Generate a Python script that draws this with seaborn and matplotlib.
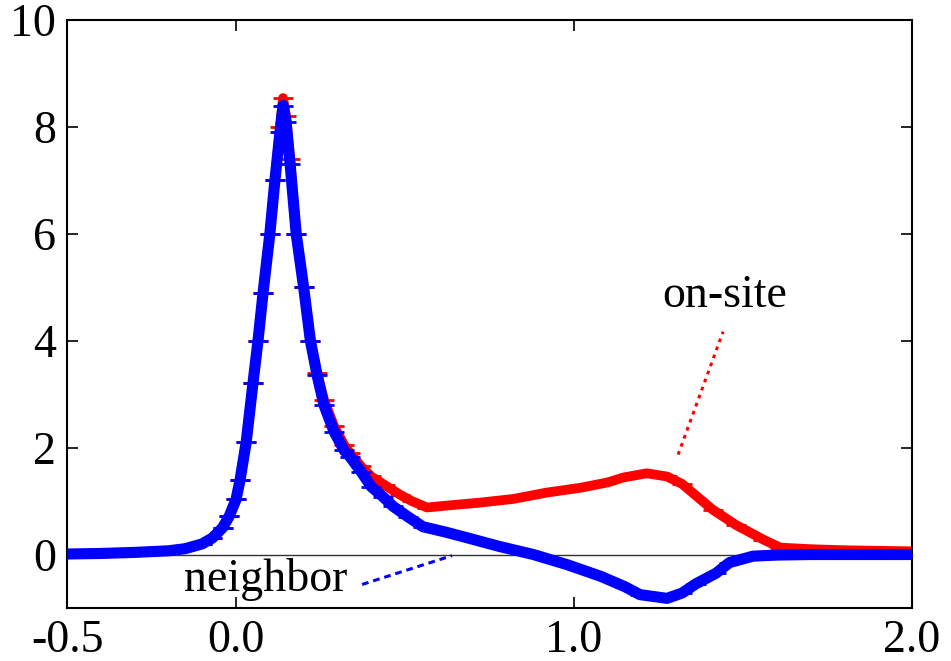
import matplotlib
matplotlib.use("Agg")
import matplotlib.pyplot as plt
import seaborn as sns
import pandas as pd

# On-site spectral weight
onsite_x = [-0.50, -0.40, -0.30, -0.20, -0.15, -0.10, -0.07, -0.04, -0.02, 0.00,
            0.012, 0.03, 0.05, 0.065, 0.08, 0.10, 0.115, 0.13, 0.139, 0.148,
            0.16, 0.178, 0.20, 0.22, 0.24, 0.26, 0.29, 0.32, 0.337, 0.37,
            0.40, 0.44, 0.485, 0.52, 0.565, 0.63, 0.72, 0.82, 0.92, 1.02,
            1.10, 1.145, 1.215, 1.275, 1.32, 1.41, 1.48, 1.56, 1.61, 1.70,
            1.80, 1.90, 2.00]
onsite_y = [0.01, 0.02, 0.04, 0.07, 0.11, 0.20, 0.31, 0.50, 0.72, 1.03,
            1.40, 2.10, 3.20, 4.00, 4.90, 6.00, 7.00, 8.00, 8.54, 8.20,
            7.40, 6.00, 5.00, 4.00, 3.40, 2.90, 2.40, 2.05, 1.90, 1.65,
            1.46, 1.30, 1.12, 1.00, 0.88, 0.92, 0.97, 1.04, 1.16, 1.25,
            1.35, 1.44, 1.52, 1.46, 1.32, 0.84, 0.55, 0.28, 0.13, 0.10,
            0.08, 0.07, 0.06]

# Neighbor spectral weight
neighbor_x = [-0.50, -0.40, -0.30, -0.20, -0.15, -0.10, -0.07, -0.04, -0.02, 0.00,
              0.012, 0.03, 0.05, 0.065, 0.08, 0.10, 0.115, 0.13, 0.139, 0.148,
              0.16, 0.178, 0.20, 0.22, 0.24, 0.26, 0.29, 0.32, 0.337, 0.37,
              0.40, 0.435, 0.465, 0.51, 0.553, 0.62, 0.68, 0.78, 0.88, 0.98,
              1.08, 1.15, 1.195, 1.275, 1.32, 1.36, 1.42, 1.46, 1.53, 1.60,
              1.70, 1.80, 2.00]
neighbor_y = [0.01, 0.02, 0.04, 0.07, 0.11, 0.20, 0.31, 0.50, 0.72, 1.03,
              1.40, 2.10, 3.20, 4.00, 4.90, 6.00, 7.00, 7.90, 8.40, 8.10,
              7.30, 6.00, 5.00, 4.00, 3.35, 2.80, 2.30, 1.95, 1.83, 1.55,
              1.27, 1.08, 0.90, 0.70, 0.52, 0.42, 0.32, 0.15, 0.00, -0.19,
              -0.41, -0.60, -0.75, -0.82, -0.72, -0.55, -0.35, -0.15, -0.03, -0.01,
              0.00, 0.00, 0.00]

x_ticks = [-0.5, 0.0, 1.0, 2.0]
x_tick_labels = ["-0.5", "0.0", "1.0", "2.0"]
y_ticks = [0, 2, 4, 6, 8, 10]

sns.set_style("ticks")
plt.rcParams["font.family"] = ["Liberation Serif", "DejaVu Serif"]
plt.rcParams["text.color"] = "black"
plt.rcParams["xtick.color"] = "black"
plt.rcParams["ytick.color"] = "black"

fig = plt.figure(figsize=(9.51, 6.61), dpi=100)
ax = fig.add_axes([0.0705, 0.0802, 0.8885, 0.8895])

ax.axhline(0, color="#333333", lw=1.0, zorder=1)

df_on = pd.DataFrame({"x": onsite_x, "y": onsite_y})
df_nb = pd.DataFrame({"x": neighbor_x, "y": neighbor_y})

sns.lineplot(data=df_on, x="x", y="y", ax=ax, color="#ff0000", lw=7,
             marker="_", markersize=15, markeredgewidth=2.0,
             markeredgecolor="#ff0000", sort=False, estimator=None, zorder=2)
sns.lineplot(data=df_nb, x="x", y="y", ax=ax, color="#0000ff", lw=8,
             marker="_", markersize=15, markeredgewidth=2.0,
             markeredgecolor="#0000ff", sort=False, estimator=None, zorder=3)

# labels with pointer lines
ax.plot([1.308, 1.441], [1.87, 4.17], color="#ff0000", lw=2.2,
        ls=(0, (1.2, 1.6)), zorder=4)
ax.text(1.447, 4.85, "on-site", fontsize=33, ha="center", va="center",
        color="black")
ax.plot([0.373, 0.639], [-0.56, -0.02], color="#0000ff", lw=2.2,
        ls=(0, (2.2, 1.6)), zorder=4)
ax.text(0.088, -0.47, "neighbor", fontsize=33, ha="center", va="center",
        color="black")

ax.set_xlim(-0.5, 2.0)
ax.set_ylim(-1, 10)
ax.set_xticks(x_ticks)
ax.set_xticklabels(x_tick_labels)
ax.set_yticks(y_ticks)
ax.set_xlabel("")
ax.set_ylabel("")
ax.tick_params(direction="in", length=8, width=1.2, labelsize=33,
               labelcolor="black", top=True, right=True, pad=8)
for sp in ax.spines.values():
    sp.set_linewidth(1.5)
    sp.set_color("black")

fig.savefig("out.png", dpi=100)
